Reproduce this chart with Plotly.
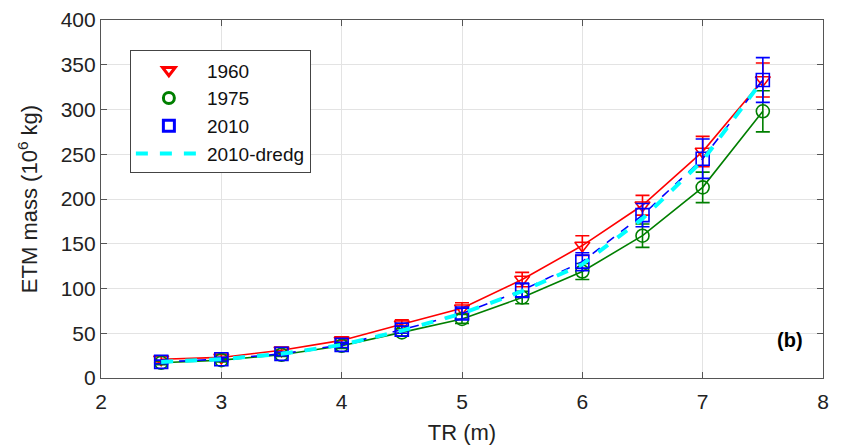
import plotly.graph_objects as go

tr = [2.5, 3.0, 3.5, 4.0, 4.5, 5.0, 5.5, 6.0, 6.5, 7.0, 7.5]

m1960 = [21, 23, 31, 42, 60, 78, 110, 148, 193, 253, 333]
e1960 = [3, 3, 3, 4, 5, 6, 8, 11, 11, 17, 19]
m1975 = [17, 20, 26, 36, 51, 66, 90, 119, 159, 213, 298]
e1975 = [2, 2, 2, 3, 4, 5, 7, 9, 13, 17, 23]
m2010 = [18, 21, 27, 37, 54, 72, 98, 130, 182, 245, 333]
e2010 = [2, 2, 2, 3, 4, 6, 8, 10, 13, 22, 25]
m2010d = [18, 21, 27, 37, 53, 72, 97, 127, 178, 243, 333]

FONT = "Liberation Sans, Arial, sans-serif"

fig = go.Figure()

def series(y, err, color, symbol, dash, name):
    fig.add_trace(go.Scatter(
        x=tr, y=y, mode="lines+markers", showlegend=False,
        line=dict(color=color, width=1.6, dash=dash),
        marker=dict(symbol=symbol, size=13, color=color, line=dict(color=color, width=1.6)),
        error_y=dict(type="data", array=err, visible=True, color=color, thickness=1.6, width=7),
    ))
    fig.add_trace(go.Scatter(
        x=[None], y=[None], mode="markers", name=name,
        marker=dict(symbol=symbol, size=11, color=color, line=dict(color=color, width=3)),
    ))

series(m1960, e1960, "#ff0000", "triangle-down-open", "solid", "1960")
series(m1975, e1975, "#007f00", "circle-open", "solid", "1975")
series(m2010, e2010, "#0000ff", "square-open", "dash", "2010")

fig.add_trace(go.Scatter(
    x=tr, y=m2010d, mode="lines", name="2010-dredg",
    line=dict(color="#00ffff", width=4, dash="dash"),
))

fig.add_annotation(x=7.85, y=42, xref="x", yref="y", text="<b>(b)</b>",
                   showarrow=False, xanchor="right", yanchor="middle",
                   font=dict(size=20, color="black", family=FONT))

axis_common = dict(
    showgrid=True, gridcolor="#e3e3e3", gridwidth=1,
    showline=True, linecolor="#555555", linewidth=1.2, mirror="ticks",
    ticks="inside", ticklen=6, tickcolor="#555555",
    tickfont=dict(size=21, color="#222222", family=FONT),
    zeroline=False, automargin=False,
)

fig.update_xaxes(range=[2, 8], dtick=1, ticklabelstandoff=5,
                 title=dict(text="TR (m)", font=dict(size=22, family=FONT, color="#222222"), standoff=12),
                 **axis_common)
fig.update_yaxes(range=[0, 400], dtick=50,
                 title=dict(text="ETM mass (10<sup>6</sup> kg)", font=dict(size=22, family=FONT, color="#222222"), standoff=16),
                 **axis_common)

fig.update_layout(
    width=842, height=448,
    margin=dict(l=93, r=27, t=12, b=78),
    paper_bgcolor="white", plot_bgcolor="white",
    font=dict(family=FONT, color="#222222"),
    legend=dict(x=0.04, y=0.915, xanchor="left", yanchor="top",
                bgcolor="white", bordercolor="#444444", borderwidth=1,
                font=dict(size=19, family=FONT, color="#111111"),
                itemwidth=66, tracegroupgap=0),
)

fig.write_html("out.html")
